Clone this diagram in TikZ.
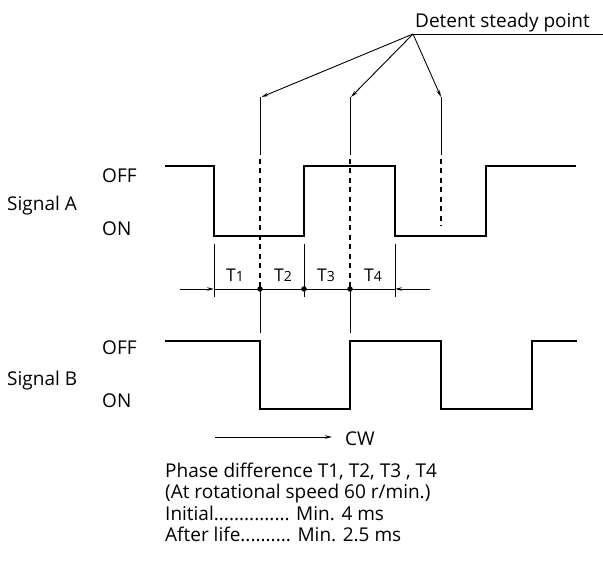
\documentclass[tikz,border=0pt]{standalone}
\usepackage{fontspec}
\setmainfont{Open Sans}
\usetikzlibrary{arrows.meta}
\begin{document}
\begin{tikzpicture}[x=1pt,y=-1pt,
  sig/.style={line width=1.5pt,line join=miter},
  thin/.style={line width=0.9pt},
  dsh/.style={line width=1.1pt,dash pattern=on 5pt off 4.5pt},
  tip/.style={-{Stealth[length=7pt,width=3.5pt]}},
  lbl/.style={inner sep=0pt,anchor=base west,font=\fontsize{19}{19}\selectfont},
  tl/.style={inner sep=0pt,anchor=base,font=\fontsize{17.5}{17.5}\selectfont},
  dotm/.style={circle,fill=black,inner sep=0pt,minimum size=5.5pt}]
\useasboundingbox (0,0) rectangle (603,561);
% detent label
\node[lbl] (det) at (415,28) {Detent steady point};
\coordinate (dp) at (413,34);
\coordinate (de) at (603,34);
\draw[thin] (dp) -- (de);
\coordinate (v1t) at (260,97);
\coordinate (v2t) at (350,97);
\coordinate (v3t) at (441,97);
\draw[thin,tip] (dp) -- ([xshift=1.5pt]v1t);
\draw[thin,tip] (dp) -- ([xshift=1pt]v2t);
\draw[thin,tip] (dp) -- (v3t);
\coordinate (v1b) at (260,155);
\coordinate (v2b) at (350,155);
\coordinate (v3b) at (441,155);
\draw[thin] (v1t) -- (v1b);
\draw[thin] (v2t) -- (v2b);
\draw[thin] (v3t) -- (v3b);
% dots
\node[dotm] (d1) at (260,289) {};
\node[dotm] (d2) at (304,289) {};
\node[dotm] (d3) at (350,289) {};
\draw[dsh] (260,159) -- (d1.center);
\draw[dsh] (350,159) -- (d3.center);
\coordinate (v3e) at (441,226);
\draw[dsh] (441,159) -- (v3e);
% signal A
\draw[sig] (165,166) -- (214,166) -- (214,236) -- (304,236) -- (304,166) -- (395,166) -- (395,236) -- (486,236) -- (486,166) -- (576,166);
% signal B
\draw[sig] (165,341) -- (260,341) -- (260,409) -- (350,409) -- (350,341) -- (441,341) -- (441,409) -- (532,409) -- (532,341) -- (577,341);
% ticks
\coordinate (k1t) at (214,244); \coordinate (k1b) at (214,297);
\coordinate (k2t) at (304,244); \coordinate (k2b) at (304,297);
\coordinate (k3t) at (395,244); \coordinate (k3b) at (395,297);
\draw[thin] (k1t) -- (k1b);
\draw[thin] (k2t) -- (k2b);
\draw[thin] (k3t) -- (k3b);
\coordinate (h1) at (214,289);
\coordinate (h2) at (395,289);
\draw[thin] (h1) -- (h2);
\coordinate (a1) at (180,289);
\coordinate (a2) at (430,289);
\draw[thin,tip] (a1) -- (h1);
\draw[thin,tip] (a2) -- (h2);
\coordinate (s1) at (260,333);
\coordinate (s2) at (350,333);
\draw[thin] (d1.center) -- (s1);
\draw[thin] (d3.center) -- (s2);
% T labels
\node[tl] (t1) at (235,282) {T{\fontsize{14}{14}\selectfont 1}};
\node[tl] (t2) at (283,282) {T{\fontsize{14}{14}\selectfont 2}};
\node[tl] (t3) at (326,282) {T{\fontsize{14}{14}\selectfont 3}};
\node[tl] (t4) at (373,282) {T{\fontsize{14}{14}\selectfont 4}};
% level labels
\node[lbl] (offa) at (102,183) {OFF};
\node[lbl] (ona) at (102,236) {ON};
\node[lbl] (offb) at (102,355) {OFF};
\node[lbl] (onb) at (102,408) {ON};
\node[lbl] (siga) at (7,211) {Signal A};
\node[lbl] (sigb) at (7,386) {Signal B};
% CW
\coordinate (cw1) at (215,437);
\node[lbl] (cw) at (345,446) {CW};
\draw[thin,tip] (cw1) -- (332,437);
% notes
\node[lbl] (n1) at (165,478) {Phase difference T1, T2, T3 , T4};
\node[lbl] (n2) at (165,499) {(At rotational speed 60 r/min.)};
\node[lbl] (n3) at (165,520) {Initial............... Min. 4 ms};
\node[lbl] (n4) at (165,541) {After life.......... Min. 2.5 ms};
\end{tikzpicture}
\end{document}
